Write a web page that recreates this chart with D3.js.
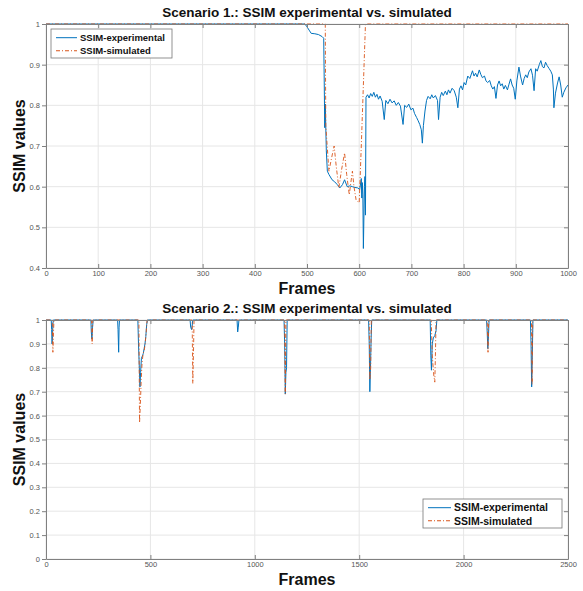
<!DOCTYPE html>
<html>
<head>
<meta charset="utf-8">
<script src="https://cdn.jsdelivr.net/npm/d3@7"></script>
<style>
  body { margin: 0; background: #fff; }
  svg { font-family: "Liberation Sans", Arial, sans-serif; }
</style>
</head>
<body>
<svg id="drawing_region"></svg>
<script>
// ---- scenario 1 ----
var s1Titles = ['Scenario 1.: SSIM experimental vs. simulated'];
var s1XTicks = [0, 100, 200, 300, 400, 500, 600, 700, 800, 900, 1000];
var s1YTicks = [0.4, 0.5, 0.6, 0.7, 0.8, 0.9, 1];
var s1Experimental = [
    [0, 1], [496, 1], [500, 0.993], [505, 0.983], [508, 0.977], [515, 0.976], [522, 0.974], [529, 0.969],
    [532, 0.965], [533, 0.86], [534, 0.745], [535, 0.803], [537, 0.688], [539, 0.638], [542, 0.63],
    [548, 0.617], [553, 0.612], [558, 0.605], [563, 0.597], [568, 0.605], [572, 0.617], [577, 0.6],
    [582, 0.602], [587, 0.6], [592, 0.598], [597, 0.597], [601, 0.593], [604, 0.62], [605, 0.572],
    [606, 0.61], [607, 0.58], [608, 0.448], [610, 0.6], [611, 0.625], [612, 0.53], [613, 0.82],
    [616, 0.826], [619, 0.818], [622, 0.829], [625, 0.822], [628, 0.832], [631, 0.82], [634, 0.827],
    [637, 0.815], [640, 0.823], [644, 0.81], [648, 0.765], [651, 0.812], [655, 0.804], [659, 0.815],
    [663, 0.806], [667, 0.811], [671, 0.8], [675, 0.807], [679, 0.798], [684, 0.753], [687, 0.8],
    [691, 0.795], [695, 0.803], [699, 0.789], [703, 0.793], [706, 0.78], [710, 0.77], [713, 0.762],
    [716, 0.753], [719, 0.74], [721, 0.707], [723, 0.75], [726, 0.786], [729, 0.812], [732, 0.822],
    [736, 0.816], [739, 0.826], [742, 0.818], [746, 0.824], [750, 0.812], [752, 0.765], [755, 0.82],
    [758, 0.832], [761, 0.824], [765, 0.835], [768, 0.826], [771, 0.838], [774, 0.83], [778, 0.842],
    [782, 0.836], [786, 0.82], [789, 0.794], [792, 0.84], [795, 0.848], [798, 0.838], [801, 0.856],
    [804, 0.85], [808, 0.872], [812, 0.866], [817, 0.885], [820, 0.872], [823, 0.879], [826, 0.87],
    [830, 0.887], [833, 0.876], [836, 0.868], [840, 0.872], [843, 0.86], [846, 0.856], [850, 0.861],
    [853, 0.848], [856, 0.84], [859, 0.846], [862, 0.817], [865, 0.85], [868, 0.86], [871, 0.848],
    [874, 0.853], [877, 0.84], [880, 0.849], [884, 0.838], [887, 0.852], [890, 0.865], [893, 0.85],
    [896, 0.842], [899, 0.815], [902, 0.86], [906, 0.894], [909, 0.872], [913, 0.85], [916, 0.866],
    [919, 0.875], [922, 0.868], [925, 0.882], [929, 0.89], [932, 0.874], [935, 0.836], [938, 0.89],
    [941, 0.884], [945, 0.9], [948, 0.91], [951, 0.895], [954, 0.892], [957, 0.906], [960, 0.898],
    [964, 0.89], [967, 0.884], [970, 0.875], [972, 0.84], [973, 0.794], [976, 0.83], [980, 0.855],
    [983, 0.87], [986, 0.85], [989, 0.82], [992, 0.832], [996, 0.843], [1000, 0.85]
];
var s1Simulated = [
    [0, 1], [535, 1], [536, 0.75], [542, 0.638], [547, 0.67], [552, 0.7], [556, 0.65], [561, 0.597],
    [566, 0.64], [572, 0.683], [576, 0.63], [581, 0.58], [584, 0.61], [587, 0.638], [590, 0.6],
    [594, 0.568], [600, 0.56], [604, 0.7], [608, 0.85], [612, 1], [1000, 1]
];

// ---- scenario 2 ----
var s2Titles = ['Scenario 2.: SSIM experimental vs. simulated'];
var s2XTicks = [0, 500, 1000, 1500, 2000, 2500];
var s2YTicks = [0, 0.1, 0.2, 0.3, 0.4, 0.5, 0.6, 0.7, 0.8, 0.9, 1];
var s2Experimental = [
    [0, 1], [25, 1], [27, 0.96], [29, 0.9], [31, 0.93], [33, 0.98], [35, 1],
    [215, 1], [217, 0.95], [220, 0.92], [223, 0.97], [226, 1],
    [343, 1], [345, 0.96], [348, 0.865], [350, 0.97], [352, 1],
    [440, 1], [443, 0.9], [447, 0.8], [450, 0.72], [453, 0.78], [457, 0.84], [462, 0.85], [466, 0.86],
    [470, 0.88], [474, 0.9], [478, 0.93], [482, 0.98], [486, 1],
    [690, 1], [693, 0.97], [697, 0.96], [700, 0.975], [703, 1],
    [915, 1], [918, 0.95], [921, 0.97], [924, 1],
    [1140, 1], [1143, 0.9], [1146, 0.69], [1149, 0.78], [1152, 0.8], [1155, 1],
    [1545, 1], [1548, 0.9], [1551, 0.7], [1554, 0.8], [1557, 0.92], [1560, 1],
    [1840, 1], [1843, 0.85], [1846, 0.79], [1850, 0.9], [1855, 0.925], [1862, 0.935], [1868, 0.955], [1872, 1],
    [2110, 1], [2113, 0.95], [2116, 0.88], [2119, 0.93], [2122, 1],
    [2320, 1], [2323, 0.9], [2326, 0.72], [2329, 0.85], [2332, 1],
    [2500, 1]
];
var s2Simulated = [
    [0, 1], [30, 1], [33, 0.865], [36, 0.95], [38, 1],
    [218, 1], [221, 0.9], [224, 1],
    [445, 1], [448, 0.57], [452, 0.65], [456, 0.75], [460, 0.82], [465, 0.86], [470, 0.87],
    [475, 0.9], [480, 0.95], [484, 1],
    [700, 1], [703, 0.735], [706, 0.85], [709, 1],
    [1143, 1], [1146, 0.69], [1149, 1],
    [1548, 1], [1551, 0.75], [1555, 0.8], [1558, 1],
    [1845, 1], [1850, 0.85], [1857, 0.77], [1862, 0.74], [1865, 0.85], [1868, 1],
    [2113, 1], [2117, 0.865], [2120, 1],
    [2325, 1], [2328, 0.73], [2331, 1],
    [2500, 1]
];
var legendNames = ['SSIM-experimental', 'SSIM-simulated'];

var svg = d3.select('#drawing_region').attr('width', 583).attr('height', 591);
var fmt = d => String(+d.toFixed(1));

function drawPanel(cfg) {
    var g = svg.append('g').attr('transform', `translate(${cfg.left}, ${cfg.top})`);
    var w = cfg.right - cfg.left, h = cfg.bottom - cfg.top;

    var x = d3.scaleLinear().domain(cfg.xdomain).range([0, w]);
    var y = d3.scaleLinear().domain(cfg.ydomain).range([h, 0]);

    // grid
    g.append('g').selectAll('line').data(cfg.xticks).join('line')
        .attr('x1', d => x(d)).attr('x2', d => x(d)).attr('y1', 0).attr('y2', h)
        .attr('stroke', '#e6e6e6').attr('stroke-width', 1);
    g.append('g').selectAll('line').data(cfg.yticks).join('line')
        .attr('x1', 0).attr('x2', w).attr('y1', d => y(d)).attr('y2', d => y(d))
        .attr('stroke', '#e6e6e6').attr('stroke-width', 1);

    // data
    var line = d3.line().x(d => x(d[0])).y(d => y(d[1]));
    g.append('path').datum(cfg.exp).attr('d', line)
        .attr('fill', 'none').attr('stroke', '#0072BD').attr('stroke-width', 1);
    g.append('path').datum(cfg.sim).attr('d', line)
        .attr('fill', 'none').attr('stroke', '#D95319').attr('stroke-width', 0.9)
        .attr('stroke-dasharray', '4,2,1,2');

    // axes
    var xb = g.append('g').attr('transform', `translate(0, ${h})`)
        .call(d3.axisBottom(x).tickValues(cfg.xticks).tickFormat(fmt).tickSize(-4).tickPadding(3).tickSizeOuter(0));
    var xt = g.append('g')
        .call(d3.axisTop(x).tickValues(cfg.xticks).tickSize(-4).tickFormat('').tickSizeOuter(0));
    var yl = g.append('g')
        .call(d3.axisLeft(y).tickValues(cfg.yticks).tickFormat(fmt).tickSize(4).tickPadding(2).tickSizeOuter(0));
    var yr = g.append('g').attr('transform', `translate(${w}, 0)`)
        .call(d3.axisRight(y).tickValues(cfg.yticks).tickSize(-4).tickFormat('').tickSizeOuter(0));
    [xb, xt, yl, yr].forEach(a => {
        a.select('.domain').attr('stroke', '#808080');
        a.selectAll('.tick line').attr('stroke', '#808080');
        a.selectAll('.tick text').attr('fill', '#555').style('font-size', '7.5px')
            .style('font-family', '"Liberation Sans", Arial, sans-serif');
    });

    // titles
    svg.append('text').attr('x', cfg.left + w / 2).attr('y', cfg.top - 7)
        .attr('text-anchor', 'middle').attr('font-weight', 'bold').attr('font-size', 13.5)
        .attr('fill', '#111').text(cfg.title);
    svg.append('text').attr('x', cfg.left + w / 2).attr('y', cfg.bottom + 26)
        .attr('text-anchor', 'middle').attr('font-weight', 'bold').attr('font-size', 16)
        .attr('fill', '#111').text('Frames');
    svg.append('text')
        .attr('transform', `translate(25, ${cfg.top + h / 2}) rotate(-90)`)
        .attr('text-anchor', 'middle').attr('font-weight', 'bold').attr('font-size', 16)
        .attr('fill', '#111').text('SSIM values');

    // legend
    var lg = svg.append('g').attr('transform', `translate(${cfg.leg.x}, ${cfg.leg.y})`);
    lg.append('rect').attr('width', cfg.leg.w).attr('height', cfg.leg.h)
        .attr('fill', '#fff').attr('stroke', '#777').attr('stroke-width', 0.8);
    var styles = [{ c: '#0072BD', d: null }, { c: '#D95319', d: '4,2,1,2' }];
    legendNames.forEach((name, i) => {
        var cy = cfg.leg.h * (i === 0 ? 0.3 : 0.75);
        lg.append('line').attr('x1', 5).attr('x2', cfg.leg.sample).attr('y1', cy).attr('y2', cy)
            .attr('stroke', styles[i].c).attr('stroke-width', 1)
            .attr('stroke-dasharray', styles[i].d);
        lg.append('text').attr('x', cfg.leg.sample + 3).attr('y', cy + cfg.leg.fs * 0.36)
            .attr('font-weight', 'bold').attr('font-size', cfg.leg.fs).attr('fill', '#111').text(name);
    });
}

drawPanel({
    left: 46, right: 568, top: 24, bottom: 268,
    xdomain: [0, 1000], ydomain: [0.4, 1], xticks: s1XTicks, yticks: s1YTicks,
    exp: s1Experimental, sim: s1Simulated, title: s1Titles[0],
    leg: { x: 51, y: 29, w: 121, h: 29, sample: 26, fs: 9.5 }
});
drawPanel({
    left: 46, right: 568, top: 320, bottom: 559,
    xdomain: [0, 2500], ydomain: [0, 1], xticks: s2XTicks, yticks: s2YTicks,
    exp: s2Experimental, sim: s2Simulated, title: s2Titles[0],
    leg: { x: 423, y: 499, w: 139, h: 29, sample: 28, fs: 10.5 }
});
</script>
</body>
</html>
